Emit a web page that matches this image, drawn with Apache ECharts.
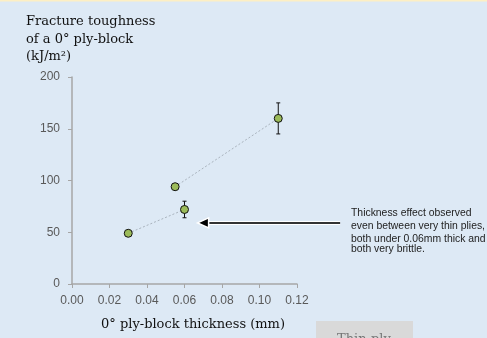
<!DOCTYPE html>
<html>
<head>
<meta charset="utf-8">
<script src="https://cdn.jsdelivr.net/npm/echarts@6/dist/echarts.min.js"></script>
<style>
  html, body { margin: 0; padding: 0; background: #dde9f5; }
  #chart { width: 487px; height: 338px; }
</style>
</head>
<body>
<div id="chart"></div>
<script>
// Ply-block thickness (mm) and measured fracture toughness (kJ/m²)
const thinPair = [[0.03, 49], [0.06, 72]];
const thickPair = [[0.055, 94], [0.11, 160]];
// Error bars: [thickness, mean, half-range]
const errorBars = [[0.06, 72, 8], [0.11, 160, 15]];
const yTicks = { min: 0, max: 200, step: 50 };
const xTicks = { min: 0, max: 0.12, step: 0.02 };
// Annotation arrow: tip and tail in data units
const arrowTip = [0.067, 59];
const arrowTail = [0.143, 59];
const noteLines = [
  'Thickness effect observed',
  'even between very thin plies,',
  'both under 0.06mm thick and',
  'both very brittle.'
];

const chart = echarts.init(document.getElementById('chart'));
const sans = 'Liberation Sans, Arial, sans-serif';
const serif = 'DejaVu Serif, Liberation Serif, serif';

const markerStyle = { color: '#9bbb59', borderColor: '#111', borderWidth: 1 };
const linkStyle = { color: '#a9b3bd', width: 1, type: [2, 2] };

chart.setOption({
  backgroundColor: '#dde9f5',
  animation: false,
  grid: { left: 72, right: 190, top: 77, bottom: 54, containLabel: false },
  xAxis: {
    type: 'value', min: xTicks.min, max: xTicks.max, interval: xTicks.step,
    axisLine: { lineStyle: { color: '#a6a6a6', width: 1.5 } },
    axisTick: { show: true, length: 4, lineStyle: { color: '#a6a6a6' } },
    axisLabel: { color: '#595959', fontFamily: sans, fontSize: 12, margin: 11,
      formatter: v => v.toFixed(2) },
    splitLine: { show: false }
  },
  yAxis: {
    type: 'value', min: yTicks.min, max: yTicks.max, interval: yTicks.step,
    axisLine: { show: true, lineStyle: { color: '#a6a6a6', width: 1.5 } },
    axisTick: { show: true, length: 4, lineStyle: { color: '#a6a6a6' } },
    axisLabel: { color: '#595959', fontFamily: sans, fontSize: 12, margin: 12 },
    splitLine: { show: false }
  },
  series: [
    {
      type: 'line', data: thinPair, symbol: 'circle', symbolSize: 8,
      lineStyle: linkStyle, itemStyle: markerStyle, z: 3
    },
    {
      type: 'line', data: thickPair, symbol: 'circle', symbolSize: 8,
      lineStyle: linkStyle, itemStyle: markerStyle, z: 3
    },
    {
      type: 'custom', data: errorBars, z: 2,
      renderItem: (params, api) => {
        const x = api.value(0), m = api.value(1), e = api.value(2);
        const top = api.coord([x, m + e]);
        const bot = api.coord([x, m - e]);
        const cap = 2;
        const st = { stroke: '#111', lineWidth: 1 };
        return {
          type: 'group',
          children: [
            { type: 'line', shape: { x1: top[0], y1: top[1], x2: bot[0], y2: bot[1] }, style: st },
            { type: 'line', shape: { x1: top[0] - cap, y1: top[1], x2: top[0] + cap, y2: top[1] }, style: st },
            { type: 'line', shape: { x1: bot[0] - cap, y1: bot[1], x2: bot[0] + cap, y2: bot[1] }, style: st }
          ]
        };
      }
    }
  ]
});

const tip = chart.convertToPixel({ gridIndex: 0 }, arrowTip);
const tail = chart.convertToPixel({ gridIndex: 0 }, arrowTail);
const headLen = 11, headHalf = 5;

const graphics = [
  { type: 'rect', shape: { x: 0, y: 0, width: 487, height: 1.5 }, style: { fill: '#fdefc4' }, z: 10 },
  // arrow shaft with light outline
  { type: 'line', shape: { x1: tip[0] + headLen - 1, y1: tip[1], x2: tail[0], y2: tail[1] },
    style: { stroke: '#ffffff', lineWidth: 4 }, z: 20 },
  { type: 'line', shape: { x1: tip[0] + headLen - 1, y1: tip[1], x2: tail[0], y2: tail[1] },
    style: { stroke: '#333', lineWidth: 2 }, z: 21 },
  { type: 'polygon',
    shape: { points: [[tip[0], tip[1]], [tip[0] + headLen, tip[1] - headHalf], [tip[0] + headLen, tip[1] + headHalf]] },
    style: { fill: '#000', stroke: '#fff', lineWidth: 1.5 }, z: 22 },
  // y-axis title
  { type: 'text', left: 26, top: 13, z: 30,
    style: { text: 'Fracture toughness\nof a 0° ply-block\n(kJ/m²)', fill: '#111',
      font: '13px ' + serif, lineHeight: 17.5 } },
  // x-axis title
  { type: 'text', x: 193, y: 325, z: 30,
    style: { text: '0° ply-block thickness (mm)', fill: '#111', font: '13px ' + serif,
      align: 'center', verticalAlign: 'middle' } },
  // grey box at the lower edge
  { type: 'rect', shape: { x: 316, y: 321, width: 97, height: 20 }, style: { fill: '#d9d9d9' }, z: 30 },
  { type: 'text', x: 337, y: 333, z: 31,
    style: { text: 'Thin-ply', fill: '#777', font: '13px ' + serif } }
];

const noteY = [213, 226.5, 239.5, 249.5];
noteLines.forEach((t, i) => {
  graphics.push({ type: 'text', x: 351, y: noteY[i], z: 30,
    style: { text: t, fill: '#222', font: '10.4px ' + sans, verticalAlign: 'middle' } });
});

chart.setOption({ graphic: graphics });
</script>
</body>
</html>
